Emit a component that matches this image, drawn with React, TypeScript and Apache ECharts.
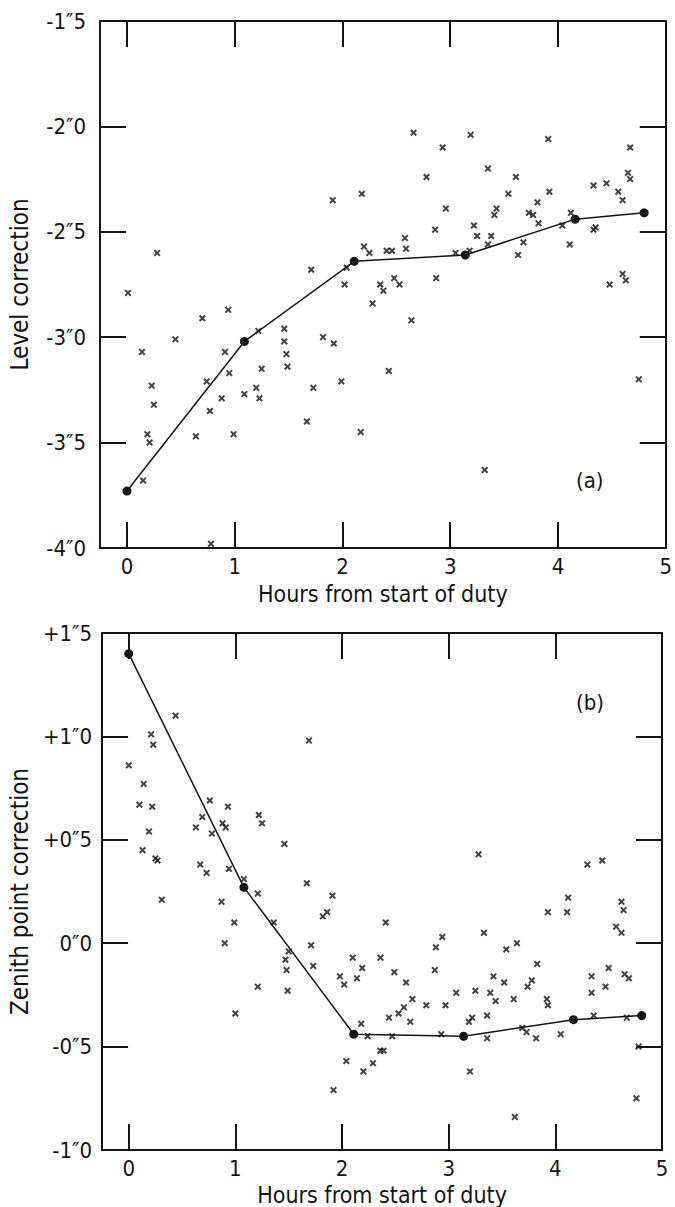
import React, { useEffect, useRef } from "react";
import * as echarts from "echarts";

// ---------- Panel (a): Level correction ----------
const aHours = [
  1.91, 0.28, 1.71, 0.01, 2.66, 3.19, 2.93, 3.91, 4.67, 2.78, 3.35, 3.61, 4.65, 4.67, 2.18, 3.54,
  3.92, 4.33, 4.45, 4.56, 4.6, 3.81, 2.96, 3.43, 3.41, 3.73, 3.77, 4.12, 3.82, 4.04, 3.22, 2.86,
  4.33, 4.35, 3.25, 3.38, 2.58, 3.68, 3.35, 2.2, 2.25, 2.41, 2.46, 2.59, 3.05, 3.18, 4.11, 3.63,
  2.04, 2.02, 2.35, 2.38, 2.48, 2.53, 2.87, 4.48, 4.6, 4.63, 0.94, 0.7, 0.45, 1.22, 1.46, 1.46,
  1.48, 1.49, 1.82, 1.92, 0.14, 0.91, 0.95, 1.25, 0.23, 0.25, 0.74, 1.2, 1.23, 1.09, 0.88, 0.77,
  1.73, 1.67, 0.19, 0.21, 0.64, 0.99, 0.15, 0.78, 2.28, 2.64, 1.99, 2.43, 2.17, 3.32, 4.75,
];
const aLevel = [
  -2.35, -2.6, -2.68, -2.79, -2.03, -2.04, -2.1, -2.06, -2.1, -2.24, -2.2, -2.24, -2.22, -2.25, -2.32, -2.32,
  -2.31, -2.28, -2.27, -2.31, -2.35, -2.36, -2.39, -2.39, -2.42, -2.41, -2.42, -2.41, -2.46, -2.47, -2.47, -2.49,
  -2.49, -2.48, -2.52, -2.52, -2.53, -2.55, -2.56, -2.57, -2.6, -2.59, -2.59, -2.58, -2.6, -2.59, -2.56, -2.61,
  -2.67, -2.75, -2.75, -2.78, -2.72, -2.75, -2.72, -2.75, -2.7, -2.73, -2.87, -2.91, -3.01, -2.97, -2.96, -3.02,
  -3.08, -3.14, -3.0, -3.03, -3.07, -3.07, -3.17, -3.15, -3.23, -3.32, -3.21, -3.24, -3.29, -3.27, -3.29, -3.35,
  -3.24, -3.4, -3.46, -3.5, -3.47, -3.46, -3.68, -3.98, -2.84, -2.92, -3.21, -3.16, -3.45, -3.63, -3.2,
];
const fitHoursA = [0, 1.09, 2.11, 3.14, 4.16, 4.8];
const fitLevel = [-3.73, -3.02, -2.64, -2.61, -2.44, -2.41];
const yTicksA = [-4, -3.5, -3, -2.5, -2, -1.5];
const yTickLabelsA = ["-4″0", "-3″5", "-3″0", "-2″5", "-2″0", "-1″5"];

// ---------- Panel (b): Zenith point correction ----------
const bHours = [
  0.44, 0.21, 0.23, 1.69, 0.0, 0.14, 0.1, 0.22, 0.76, 0.93, 0.69, 1.22, 1.25, 0.88, 0.91, 0.63,
  0.78, 0.19, 1.46, 0.13, 0.25, 0.27, 0.67, 0.73, 0.94, 1.08, 1.21, 1.67, 1.91, 0.31, 0.87, 1.82,
  1.86, 0.99, 1.36, 0.9, 1.71, 1.5, 1.47, 1.48, 1.73, 1.98, 1.21, 1.49, 1.0, 1.92, 2.41, 2.94,
  2.88, 3.33, 3.54, 3.64, 3.93, 4.11, 4.12, 4.62, 4.64, 4.57, 4.62, 2.1, 2.36, 2.19, 2.02, 2.14,
  2.49, 2.6, 2.87, 3.83, 3.42, 3.52, 3.78, 3.74, 3.25, 3.39, 3.07, 4.34, 4.5, 4.65, 4.69, 4.34,
  4.47, 2.66, 3.44, 3.61, 3.92, 3.93, 2.79, 2.97, 2.58, 2.53, 2.64, 2.44, 2.18, 3.22, 3.19, 3.36,
  3.69, 3.73, 4.36, 4.67, 2.24, 2.47, 2.93, 3.36, 3.82, 4.05, 4.78, 2.04, 2.2, 2.29, 2.36, 2.39,
  3.2, 3.62, 4.76, 3.28, 4.3, 4.44,
];
const bZenith = [
  1.1, 1.01, 0.96, 0.98, 0.86, 0.77, 0.67, 0.66, 0.69, 0.66, 0.61, 0.62, 0.58, 0.58, 0.56, 0.56,
  0.53, 0.54, 0.48, 0.45, 0.41, 0.4, 0.38, 0.34, 0.36, 0.31, 0.24, 0.29, 0.23, 0.21, 0.2, 0.13,
  0.15, 0.1, 0.1, 0.0, -0.01, -0.04, -0.08, -0.13, -0.11, -0.16, -0.21, -0.23, -0.34, -0.71, 0.1, 0.03,
  -0.02, 0.05, -0.03, 0.0, 0.15, 0.15, 0.22, 0.2, 0.16, 0.08, 0.05, -0.07, -0.07, -0.12, -0.2, -0.17,
  -0.14, -0.19, -0.13, -0.1, -0.16, -0.19, -0.18, -0.21, -0.23, -0.24, -0.24, -0.16, -0.12, -0.15, -0.17, -0.24,
  -0.21, -0.27, -0.28, -0.27, -0.27, -0.3, -0.3, -0.3, -0.31, -0.34, -0.38, -0.36, -0.39, -0.36, -0.38, -0.35,
  -0.41, -0.43, -0.35, -0.36, -0.45, -0.45, -0.44, -0.46, -0.46, -0.44, -0.5, -0.57, -0.62, -0.58, -0.52, -0.52,
  -0.62, -0.84, -0.75, 0.43, 0.38, 0.4,
];
const fitHoursB = [0, 1.08, 2.11, 3.14, 4.17, 4.81];
const fitZenith = [1.4, 0.27, -0.44, -0.45, -0.37, -0.35];
const yTicksB = [-1, -0.5, 0, 0.5, 1, 1.5];
const yTickLabelsB = ["-1″0", "-0″5", "0″0", "+0″5", "+1″0", "+1″5"];

const xTickValues = [0, 1, 2, 3, 4];
const xLabelValues = [0, 1, 2, 3, 4, 5];
const xTitle = "Hours from start of duty";

const FONT = "'DejaVu Sans Condensed', 'DejaVu Sans'";
const INK = "#141414";
const CROSS =
  "path://M0,2L2,0L5,3L8,0L10,2L7,5L10,8L8,10L5,7L2,10L0,8L3,5Z";

function lookup(ticks: number[], labels: string[]) {
  return (v: number) => {
    const i = ticks.findIndex((t) => Math.abs(t - v) < 1e-6);
    return i >= 0 ? labels[i] : "";
  };
}

export default function App() {
  const ref = useRef<HTMLDivElement>(null);
  useEffect(() => {
    if (!ref.current) return;
    const chart = echarts.init(ref.current, undefined, { renderer: "svg" });
    const line = { color: INK, width: 2 };
    const tickStyle = { color: INK, width: 2 };
    const tickText = { fontFamily: FONT, color: INK, fontSize: 22 };
    const titleText = { fontFamily: FONT, color: INK, fontSize: 23 };

    const bottomX = (gridIndex: number, gap: number) => ({
      type: "value",
      gridIndex,
      min: -0.25,
      max: 5,
      position: "bottom",
      axisLine: { show: true, onZero: false, lineStyle: line },
      axisTick: { show: true, inside: true, length: 26, customValues: xTickValues, lineStyle: tickStyle },
      axisLabel: { show: true, customValues: xLabelValues, margin: 7, ...tickText },
      splitLine: { show: false },
      name: xTitle,
      nameLocation: "middle",
      nameGap: gap,
      nameTextStyle: { ...titleText },
    });
    const topX = (gridIndex: number) => ({
      type: "value",
      gridIndex,
      min: -0.25,
      max: 5,
      position: "top",
      axisLine: { show: true, onZero: false, lineStyle: line },
      axisTick: { show: true, inside: true, length: 26, customValues: xTickValues, lineStyle: tickStyle },
      axisLabel: { show: false },
      splitLine: { show: false },
    });
    const leftY = (
      gridIndex: number,
      min: number,
      max: number,
      ticks: number[],
      labels: string[],
      name: string,
      margin: number,
      gap: number
    ) => ({
      type: "value",
      gridIndex,
      min,
      max,
      interval: 0.5,
      position: "left",
      axisLine: { show: true, onZero: false, lineStyle: line },
      axisTick: { show: true, inside: true, length: 26, lineStyle: tickStyle },
      axisLabel: { show: true, margin, formatter: lookup(ticks, labels), ...tickText },
      splitLine: { show: false },
      name,
      nameLocation: "middle",
      nameGap: gap,
      nameTextStyle: { ...titleText, fontSize: 24 },
    });
    const rightY = (gridIndex: number, min: number, max: number) => ({
      type: "value",
      gridIndex,
      min,
      max,
      interval: 0.5,
      position: "right",
      axisLine: { show: true, onZero: false, lineStyle: line },
      axisTick: { show: true, inside: true, length: 26, lineStyle: tickStyle },
      axisLabel: { show: false },
      splitLine: { show: false },
    });

    const scatter = (xs: number[], ys: number[], xi: number, yi: number) => ({
      type: "scatter",
      xAxisIndex: xi,
      yAxisIndex: yi,
      symbol: CROSS,
      symbolSize: 7,
      itemStyle: { color: INK },
      data: xs.map((x, i) => [x, ys[i]]),
      z: 3,
    });
    const fit = (xs: number[], ys: number[], xi: number, yi: number) => ({
      type: "line",
      xAxisIndex: xi,
      yAxisIndex: yi,
      symbol: "circle",
      symbolSize: 9,
      showSymbol: true,
      itemStyle: { color: INK },
      lineStyle: { color: INK, width: 1.5 },
      data: xs.map((x, i) => [x, ys[i]]),
      z: 4,
    });

    chart.setOption({
      animation: false,
      backgroundColor: "#ffffff",
      grid: [
        { left: 97, top: 21, width: 576, height: 527 },
        { left: 100, top: 633, width: 562, height: 518 },
      ],
      xAxis: [bottomX(0, 34), topX(0), bottomX(1, 33), topX(1)],
      yAxis: [
        leftY(0, -4, -1.5, yTicksA, yTickLabelsA, "Level correction", 14, 68),
        rightY(0, -4, -1.5),
        leftY(1, -1, 1.5, yTicksB, yTickLabelsB, "Zenith point correction", 10, 68),
        rightY(1, -1, 1.5),
      ],
      series: [
        scatter(aHours, aLevel, 0, 0),
        fit(fitHoursA, fitLevel, 0, 0),
        scatter(bHours, bZenith, 2, 2),
        fit(fitHoursB, fitZenith, 2, 2),
      ],
      graphic: [
        {
          type: "text",
          left: 576,
          top: 469,
          style: { text: "(a)", font: `22px ${FONT}`, fill: INK },
        },
        {
          type: "text",
          left: 576,
          top: 691,
          style: { text: "(b)", font: `22px ${FONT}`, fill: INK },
        },
      ],
    });
    return () => chart.dispose();
  }, []);
  return (
    <div
      ref={ref}
      style={{ position: "absolute", left: 0, top: 0, width: 675, height: 1207, background: "#fff" }}
    />
  );
}
